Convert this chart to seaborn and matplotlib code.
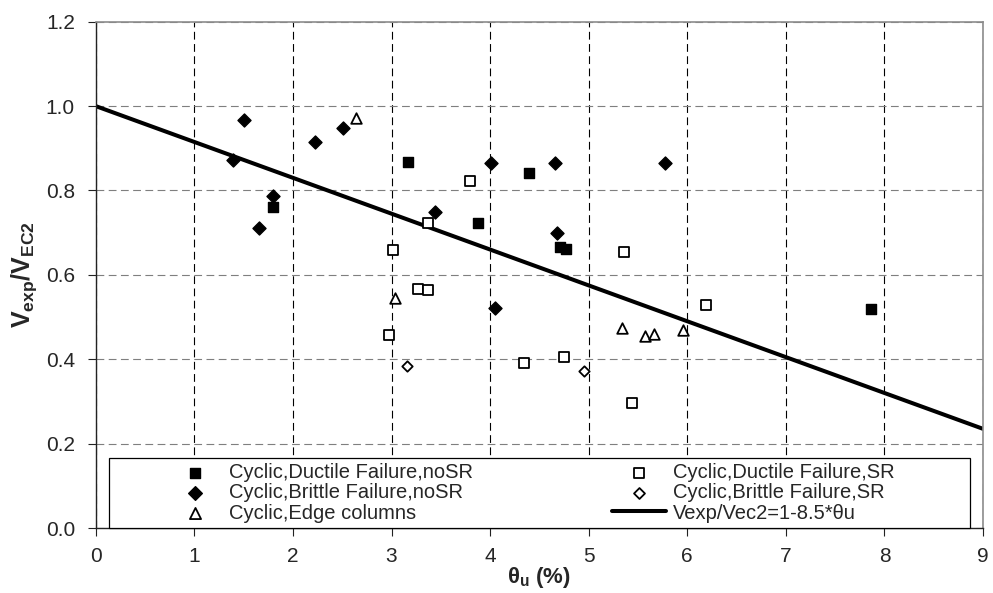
import matplotlib
matplotlib.use("Agg")
import matplotlib.pyplot as plt
from matplotlib.patches import Rectangle
import seaborn as sns

# values (theta_u in %, Vexp/VEC2)
ductile_nosr_theta = [1.80, 3.17, 4.39, 3.88, 4.71, 4.77, 7.86]
ductile_nosr_ratio = [0.762, 0.867, 0.842, 0.724, 0.667, 0.661, 0.519]

brittle_nosr_theta = [1.50, 1.39, 1.80, 1.66, 2.22, 2.51, 4.01, 4.66, 5.77, 3.44, 4.68, 4.05]
brittle_nosr_ratio = [0.967, 0.872, 0.788, 0.712, 0.916, 0.949, 0.865, 0.865, 0.865, 0.750, 0.699, 0.521]

edge_theta = [2.64, 3.04, 5.34, 5.57, 5.66, 5.96]
edge_ratio = [0.971, 0.545, 0.473, 0.454, 0.460, 0.469]

ductile_sr_theta = [3.02, 3.80, 3.37, 5.36, 3.27, 3.37, 2.97, 4.34, 4.75, 5.44, 6.19]
ductile_sr_ratio = [0.659, 0.823, 0.724, 0.653, 0.567, 0.563, 0.458, 0.392, 0.406, 0.297, 0.529]

brittle_sr_theta = [3.16, 4.95]
brittle_sr_ratio = [0.384, 0.371]

fit_theta = [0, 9]
fit_ratio = [1.0, 0.235]

x_ticks = [0, 1, 2, 3, 4, 5, 6, 7, 8, 9]
y_ticks = [0.0, 0.2, 0.4, 0.6, 0.8, 1.0, 1.2]

sns.set_style("white")
plt.rcParams['font.family'] = ['Liberation Sans', 'DejaVu Sans']
plt.rcParams['mathtext.fontset'] = 'custom'
plt.rcParams['mathtext.rm'] = 'Liberation Sans'
plt.rcParams['mathtext.it'] = 'Liberation Sans:italic'
plt.rcParams['mathtext.bf'] = 'Liberation Sans:bold'

fig = plt.figure(figsize=(9.93, 5.93), dpi=100)
ax = fig.add_axes([0.0964, 0.1096, 0.8936, 0.8538])

# series
sns.scatterplot(x=ductile_nosr_theta, y=ductile_nosr_ratio, marker='s', s=50,
                color='black', edgecolor='black', linewidth=1.0,
                label='Cyclic,Ductile Failure,noSR', ax=ax, zorder=3)
sns.scatterplot(x=brittle_nosr_theta, y=brittle_nosr_ratio, marker='D', s=44,
                color='black', edgecolor='black', linewidth=1.0,
                label='Cyclic,Brittle Failure,noSR', ax=ax, zorder=3)
sns.scatterplot(x=edge_theta, y=edge_ratio, marker='^', s=58,
                color='white', edgecolor='black', linewidth=1.3,
                label='Cyclic,Edge columns', ax=ax, zorder=3)
sns.scatterplot(x=ductile_sr_theta, y=ductile_sr_ratio, marker='s', s=44,
                color='white', edgecolor='black', linewidth=1.3,
                label='Cyclic,Ductile Failure,SR', ax=ax, zorder=3)
sns.scatterplot(x=brittle_sr_theta, y=brittle_sr_ratio, marker='D', s=28,
                color='white', edgecolor='black', linewidth=1.3,
                label='Cyclic,Brittle Failure,SR', ax=ax, zorder=3)
sns.lineplot(x=fit_theta, y=fit_ratio, color='black', linewidth=2.9,
             label='Vexp/Vec2=1-8.5*θu', ax=ax, zorder=2)

ax.set_xlim(0, 9)
ax.set_ylim(0, 1.2)
ax.set_xticks(x_ticks)
ax.set_yticks(y_ticks)
ax.set_yticklabels([f"{v:.1f}" for v in y_ticks])

# grid: black dashed verticals, grey dashed horizontals
ax.set_axisbelow(True)
ax.xaxis.grid(True, color='black', linestyle=(0, (7, 4)), linewidth=0.8)
ax.yaxis.grid(True, color='#7f7f7f', linestyle=(0, (7, 4)), linewidth=0.8)

for side in ['left', 'bottom']:
    ax.spines[side].set_color('#222222')
    ax.spines[side].set_linewidth(1.0)
for side in ['top', 'right']:
    ax.spines[side].set_color('#8c8c8c')
    ax.spines[side].set_linewidth(1.2)

ax.tick_params(axis='both', direction='out', length=6, width=0.8,
               color='#222222', labelsize=15, bottom=True, left=True)
ax.tick_params(axis='x', pad=8)
ax.tick_params(axis='y', pad=9)

ax.set_xlabel(r'$\mathbf{θ_u}$ (%)', fontsize=16, fontweight='bold', labelpad=-1)
ax.set_ylabel(r'$\mathbf{V_{exp}/V_{EC2}}$', fontsize=18, fontweight='bold', labelpad=5)

# legend box across the bottom of the plot area
ax.add_patch(Rectangle((0.0153, 0.0), 0.970, 0.1383, transform=ax.transAxes,
                       facecolor='white', edgecolor='black', linewidth=0.9,
                       zorder=4, clip_on=False))
handles, labels = ax.get_legend_handles_labels()
ax.legend(handles, labels, ncol=2, mode='expand', loc='center',
          bbox_to_anchor=(0.0815, 0.0, 0.819, 0.1383), frameon=False,
          borderpad=0, fontsize=14.5, handlelength=2.7, handletextpad=0.35,
          labelspacing=0.05, markerscale=1.05, borderaxespad=0)

fig.savefig('out.png', dpi=100)
